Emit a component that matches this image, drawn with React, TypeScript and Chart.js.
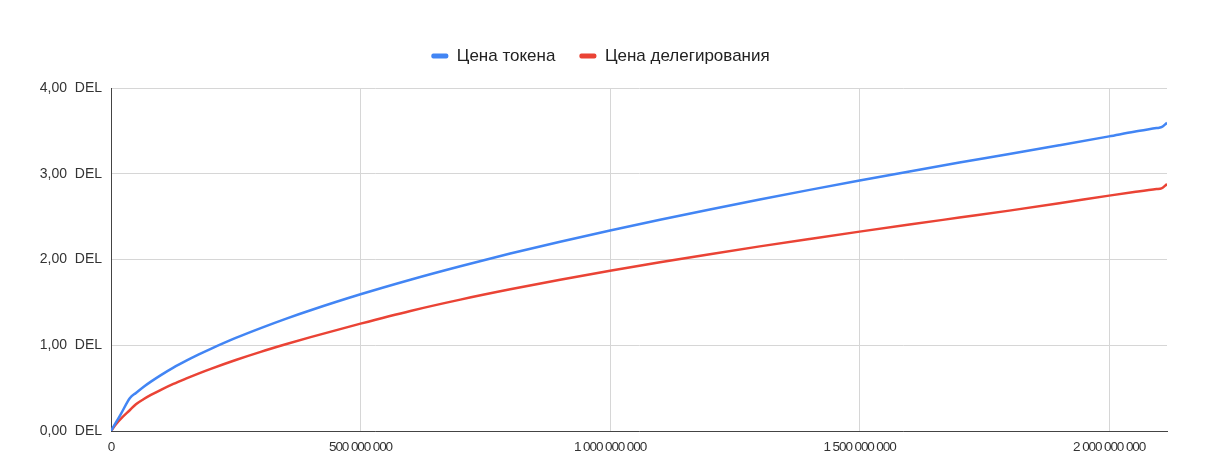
import React, { useEffect, useRef } from 'react';
import { Chart, registerables } from 'chart.js';

Chart.register(...registerables);

// Supply in millions of tokens (x axis)
const supplyMillions = [
  0, 10, 20, 38, 50, 65, 80, 100, 125, 150, 175, 200, 250, 300, 350, 400, 500,
  600, 700, 800, 900, 1000, 1100, 1200, 1300, 1400, 1500, 1600, 1700, 1800,
  1900, 2000, 2050, 2095, 2105, 2116,
];

// "Цена токена" (DEL)
const tokenPrice = [
  0, 0.1, 0.2, 0.385, 0.444, 0.514, 0.576, 0.652, 0.739, 0.817, 0.89, 0.958,
  1.085, 1.2, 1.308, 1.408, 1.594, 1.764, 1.921, 2.069, 2.207, 2.338, 2.464,
  2.584, 2.7, 2.812, 2.921, 3.027, 3.13, 3.23, 3.332, 3.436, 3.49, 3.533,
  3.543, 3.595,
];

// "Цена делегирования" (DEL)
const delegationPrice = [
  0, 0.08, 0.145, 0.245, 0.312, 0.37, 0.421, 0.48, 0.549, 0.611, 0.67, 0.725,
  0.828, 0.923, 1.011, 1.095, 1.252, 1.4, 1.532, 1.652, 1.763, 1.868, 1.967,
  2.062, 2.153, 2.24, 2.325, 2.408, 2.489, 2.57, 2.655, 2.745, 2.787, 2.822,
  2.83, 2.88,
];

const seriesLabels = ['Цена токена', 'Цена делегирования'];
const seriesColors = ['#4285F4', '#EA4335'];

const xTickValues = [0, 500, 1000, 1500, 2000]; // millions
const xMaxMillions = 2116;
const yTickValues = [0, 1, 2, 3, 4];
const yUnit = 'DEL';

const LEGEND_GAP = 13.5;
const LEGEND_SHIFT = 34;

const legendTweaks = {
  id: 'legendTweaks',
  beforeInit(chart: any) {
    const legend = chart.legend;
    if (legend && !legend.__patched) {
      const fit = legend.fit.bind(legend);
      legend.fit = () => {
        fit();
        legend.height += LEGEND_GAP;
      };
      legend.__patched = true;
    }
  },
  afterLayout(chart: any) {
    if (chart.legend) chart.legend.left += LEGEND_SHIFT;
    const xs = chart.scales.x;
    if (xs && !xs.__patched) {
      const orig = xs.drawLabels.bind(xs);
      xs.drawLabels = (area: any) => {
        const ctx = chart.ctx as any;
        const prev = ctx.letterSpacing;
        ctx.letterSpacing = '-1.1px';
        orig(area);
        ctx.letterSpacing = prev || '0px';
      };
      xs.__patched = true;
    }
  },
};

const formatBig = (v: number) =>
  Math.round(v * 1e6)
    .toString()
    .replace(/\B(?=(\d{3})+(?!\d))/g, ' ');

export default function App() {
  const canvasRef = useRef<HTMLCanvasElement | null>(null);

  useEffect(() => {
    if (!canvasRef.current) return;
    const mk = (vals: number[]) => supplyMillions.map((x, i) => ({ x, y: vals[i] }));
    const chart = new Chart(canvasRef.current, {
      type: 'line',
      data: {
        datasets: [
          {
            label: seriesLabels[0],
            data: mk(tokenPrice),
            borderColor: seriesColors[0],
            backgroundColor: seriesColors[0],
            borderWidth: 2.5,
            pointRadius: 0,
            cubicInterpolationMode: 'monotone',
          },
          {
            label: seriesLabels[1],
            data: mk(delegationPrice),
            borderColor: seriesColors[1],
            backgroundColor: seriesColors[1],
            borderWidth: 2.5,
            pointRadius: 0,
            cubicInterpolationMode: 'monotone',
          },
        ],
      },
      options: {
        animation: false,
        responsive: false,
        maintainAspectRatio: false,
        layout: { padding: { top: 23.5, right: 49, bottom: 0, left: 0 } },
        plugins: {
          tooltip: { enabled: false },
          legend: {
            position: 'top',
            labels: {
              boxWidth: 17,
              boxHeight: 5,
              useBorderRadius: true,
              borderRadius: 2,
              padding: 24,
              color: '#222222',
              font: { family: '"Liberation Sans", Arial, sans-serif', size: 17 },
              generateLabels: (c: any) =>
                Chart.defaults.plugins.legend.labels
                  .generateLabels(c)
                  .map((l: any) => ({ ...l, lineWidth: 0 })),
            },
          },
        },
        scales: {
          x: {
            type: 'linear',
            min: 0,
            max: xMaxMillions,
            afterFit: (s: any) => {
              s.height = 45;
            },
            afterBuildTicks: (s: any) => {
              s.ticks = xTickValues.map((value) => ({ value }));
            },
            border: { display: true, color: '#444444', width: 1 },
            grid: { color: '#d6d6d6', lineWidth: 1, drawTicks: false },
            ticks: {
              autoSkip: false,
              maxRotation: 0,
              padding: 8,
              color: '#333333',
              font: { family: '"Liberation Sans", Arial, sans-serif', size: 13.5 },
              callback: (v: any) => formatBig(Number(v)),
            },
          },
          y: {
            type: 'linear',
            min: 0,
            max: yTickValues[yTickValues.length - 1],
            afterFit: (s: any) => {
              s.width = 111;
            },
            afterBuildTicks: (s: any) => {
              s.ticks = yTickValues.map((value) => ({ value }));
            },
            border: { display: true, color: '#444444', width: 1 },
            grid: { color: '#d6d6d6', lineWidth: 1, drawTicks: false },
            ticks: {
              padding: 9,
              color: '#333333',
              font: { family: '"Liberation Sans", Arial, sans-serif', size: 14 },
              callback: (v: any) => Number(v).toFixed(2).replace('.', ',') + '  ' + yUnit,
            },
          },
        },
      },
      plugins: [legendTweaks],
    } as any);
    return () => chart.destroy();
  }, []);

  return (
    <div style={{ position: 'fixed', left: 0, top: 0, width: 1216, height: 476, background: '#ffffff' }}>
      <canvas ref={canvasRef} width={1216} height={476} style={{ display: 'block' }} />
    </div>
  );
}
